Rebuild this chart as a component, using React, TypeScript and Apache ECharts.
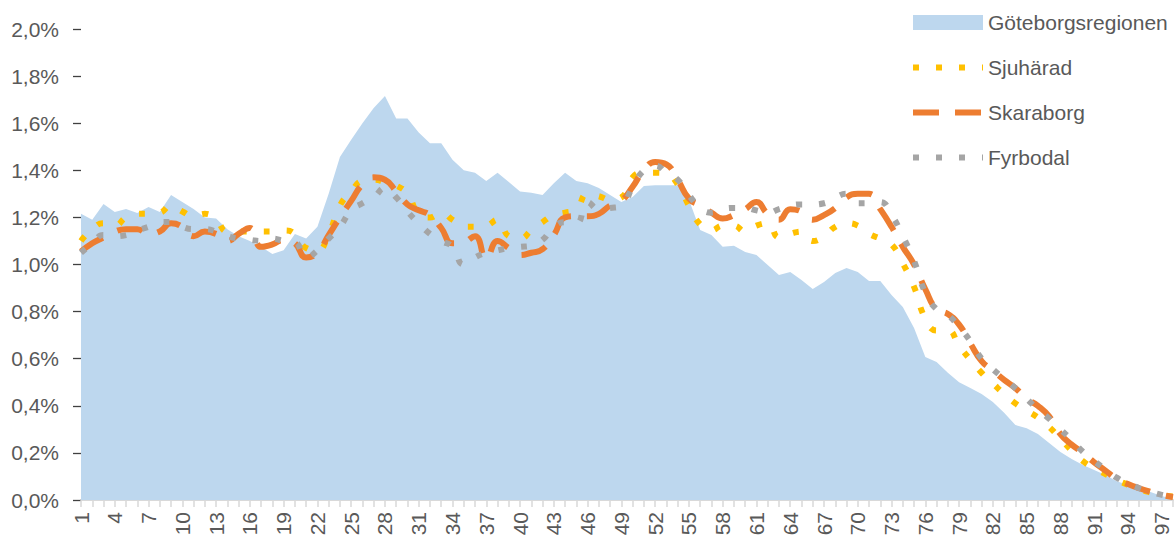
import React, { useEffect, useRef } from 'react';
import * as echarts from 'echarts';

const categories: string[] = Array.from({ length: 98 }, (_, i) => String(i + 1));

const yTicks = [0, 0.2, 0.4, 0.6, 0.8, 1.0, 1.2, 1.4, 1.6, 1.8, 2.0];

const goteborg = [
  1.215, 1.19, 1.257, 1.223, 1.236, 1.219, 1.244, 1.223, 1.295, 1.265,
  1.236, 1.2, 1.195, 1.15, 1.12, 1.1, 1.075, 1.045, 1.06, 1.13,
  1.11, 1.16, 1.3, 1.456, 1.53, 1.6, 1.665, 1.715, 1.62, 1.62,
  1.56, 1.515, 1.515, 1.445, 1.4, 1.39, 1.355, 1.39, 1.35, 1.31,
  1.305, 1.295, 1.345, 1.39, 1.355, 1.345, 1.325, 1.295, 1.265, 1.287,
  1.333, 1.337, 1.337, 1.337, 1.275, 1.146, 1.125, 1.075, 1.08, 1.053,
  1.04, 0.998, 0.955, 0.968, 0.934, 0.896, 0.926, 0.964, 0.985, 0.968,
  0.93, 0.93, 0.87, 0.82, 0.73, 0.607, 0.586, 0.54, 0.5, 0.476,
  0.45, 0.416, 0.37, 0.318, 0.305, 0.28, 0.242, 0.204, 0.174, 0.149,
  0.127, 0.106, 0.08, 0.064, 0.051, 0.034, 0.017, 0.004,
];

const sjuharad = [
  1.1, 1.15, 1.175, 1.165, 1.2, 1.215, 1.215, 1.22, 1.25, 1.225,
  1.205, 1.215, 1.19, 1.14, 1.14, 1.14, 1.14, 1.14, 1.145, 1.13,
  1.07, 1.06, 1.13, 1.25, 1.31, 1.355, 1.36, 1.35, 1.335, 1.3,
  1.215, 1.2, 1.22, 1.19, 1.16, 1.16, 1.165, 1.19, 1.12, 1.11,
  1.145, 1.18, 1.21, 1.22, 1.235, 1.3, 1.29, 1.275, 1.285, 1.37,
  1.39, 1.39, 1.385, 1.34, 1.25, 1.17, 1.145, 1.165, 1.165, 1.14,
  1.165, 1.175, 1.115, 1.13, 1.14, 1.1, 1.12, 1.16, 1.175, 1.165,
  1.13, 1.11, 1.085, 1.005, 0.905, 0.77, 0.72, 0.72, 0.655, 0.595,
  0.54, 0.495, 0.45, 0.41, 0.38, 0.35, 0.31, 0.26, 0.21, 0.165,
  0.135, 0.11, 0.085, 0.065, 0.045, 0.032, 0.022, 0.015,
];

const skaraborg = [
  1.055, 1.09, 1.115, 1.14, 1.15, 1.15, 1.13, 1.14, 1.175, 1.16,
  1.12, 1.14, 1.13, 1.1, 1.13, 1.155, 1.075, 1.085, 1.105, 1.09,
  1.03, 1.05, 1.125, 1.2, 1.27, 1.34, 1.37, 1.36, 1.31, 1.255,
  1.23, 1.21, 1.155, 1.09, 1.095, 1.12, 1.025, 1.1, 1.07, 1.04,
  1.05, 1.065, 1.125, 1.2, 1.205, 1.205, 1.215, 1.25, 1.27, 1.33,
  1.4, 1.435, 1.425, 1.36, 1.28, 1.25, 1.22, 1.195, 1.21, 1.235,
  1.265, 1.215, 1.19, 1.235, 1.225, 1.19, 1.21, 1.24, 1.285, 1.3,
  1.3, 1.235, 1.16, 1.075, 1.0, 0.895, 0.81, 0.79, 0.745, 0.665,
  0.59, 0.55, 0.51, 0.475, 0.43, 0.4, 0.355, 0.28, 0.235, 0.2,
  0.16, 0.125, 0.09, 0.068, 0.05, 0.035, 0.022, 0.013,
];

const fyrbodal = [
  1.05, 1.09, 1.125, 1.12, 1.125, 1.145, 1.16, 1.18, 1.18, 1.16,
  1.15, 1.15, 1.14, 1.12, 1.11, 1.105, 1.1, 1.11, 1.1, 1.095,
  1.03, 1.06, 1.11, 1.16, 1.23, 1.26, 1.285, 1.325, 1.285, 1.225,
  1.175, 1.13, 1.1, 1.075, 1.0, 1.03, 1.05, 1.06, 1.07, 1.075,
  1.08, 1.105, 1.16, 1.18, 1.175, 1.265, 1.235, 1.24, 1.25, 1.33,
  1.4, 1.42, 1.39, 1.36, 1.295, 1.24, 1.22, 1.235, 1.24, 1.24,
  1.23, 1.22, 1.235, 1.25, 1.255, 1.255, 1.26, 1.285, 1.3, 1.26,
  1.26, 1.265, 1.21, 1.12, 1.015, 0.88, 0.81, 0.785, 0.735, 0.675,
  0.6, 0.555, 0.515, 0.475, 0.43, 0.385, 0.345, 0.3, 0.255, 0.205,
  0.165, 0.13, 0.095, 0.07, 0.05, 0.035, 0.022, 0.015,
];

const FONT = 'Liberation Sans';
const TEXT = '#595959';

export default function App() {
  const ref = useRef<HTMLDivElement>(null);
  useEffect(() => {
    document.body.style.margin = '0';
    const chart = echarts.init(ref.current as HTMLDivElement, undefined, { renderer: 'svg' });
    chart.setOption({
      animation: false,
      textStyle: { fontFamily: FONT },
      grid: { left: 81, right: 3, top: 29, bottom: 39, containLabel: false },
      legend: {
        orient: 'vertical',
        left: 910,
        top: 12,
        padding: 0,
        itemWidth: 70,
        itemHeight: 15,
        itemGap: 24,
        textStyle: { fontSize: 21, color: TEXT, fontFamily: FONT },
        lineStyle: { width: 6 },
        data: [
          { name: 'Göteborgsregionen', icon: 'rect', itemStyle: { color: '#BDD7EE', opacity: 1 } },
          { name: 'Sjuhärad', itemStyle: { opacity: 0 }, lineStyle: { width: 6 } },
          { name: 'Skaraborg', itemStyle: { opacity: 0 }, lineStyle: { width: 6 } },
          { name: 'Fyrbodal', itemStyle: { opacity: 0 }, lineStyle: { width: 6 } },
        ],
      },
      xAxis: {
        type: 'category',
        data: categories,
        boundaryGap: false,
        axisLine: { show: true, lineStyle: { color: '#D9D9D9', width: 2 } },
        axisTick: { show: true, interval: 0, length: 7, lineStyle: { color: '#D9D9D9', width: 1.5 } },
        axisLabel: {
          interval: 2,
          rotate: 90,
          fontSize: 21,
          color: TEXT,
          fontFamily: FONT,
          margin: 12,
        },
        splitLine: { show: false },
      },
      yAxis: {
        type: 'value',
        min: yTicks[0],
        max: yTicks[yTicks.length - 1],
        interval: 0.2,
        axisLine: { show: false },
        axisTick: { show: true, length: 8, lineStyle: { color: '#404040', width: 1.3 } },
        axisLabel: {
          fontSize: 21,
          color: TEXT,
          fontFamily: FONT,
          margin: 22,
          formatter: (v: number) => v.toFixed(1).replace('.', ',') + '%',
        },
        splitLine: { show: false },
      },
      series: [
        {
          name: 'Göteborgsregionen',
          type: 'line',
          data: goteborg,
          symbol: 'none',
          showSymbol: false,
          itemStyle: { color: '#BDD7EE' },
          lineStyle: { width: 0, opacity: 0 },
          areaStyle: { color: '#BDD7EE', opacity: 1 },
          z: 1,
        },
        {
          name: 'Sjuhärad',
          type: 'line',
          data: sjuharad,
          symbol: 'none',
          showSymbol: false,
          smooth: 0.5,
          itemStyle: { color: '#FFC000' },
          lineStyle: { color: '#FFC000', width: 6, type: [6, 17], cap: 'butt' },
          z: 2,
        },
        {
          name: 'Skaraborg',
          type: 'line',
          data: skaraborg,
          symbol: 'none',
          showSymbol: false,
          smooth: 0.5,
          itemStyle: { color: '#ED7D31' },
          lineStyle: { color: '#ED7D31', width: 6, type: [26, 16], cap: 'butt' },
          z: 3,
        },
        {
          name: 'Fyrbodal',
          type: 'line',
          data: fyrbodal,
          symbol: 'none',
          showSymbol: false,
          smooth: 0.5,
          itemStyle: { color: '#A5A5A5' },
          lineStyle: { color: '#A5A5A5', width: 6, type: [6, 17], cap: 'butt' },
          z: 4,
        },
      ],
    });
    return () => chart.dispose();
  }, []);
  return <div ref={ref} style={{ width: 1176, height: 539 }} />;
}
